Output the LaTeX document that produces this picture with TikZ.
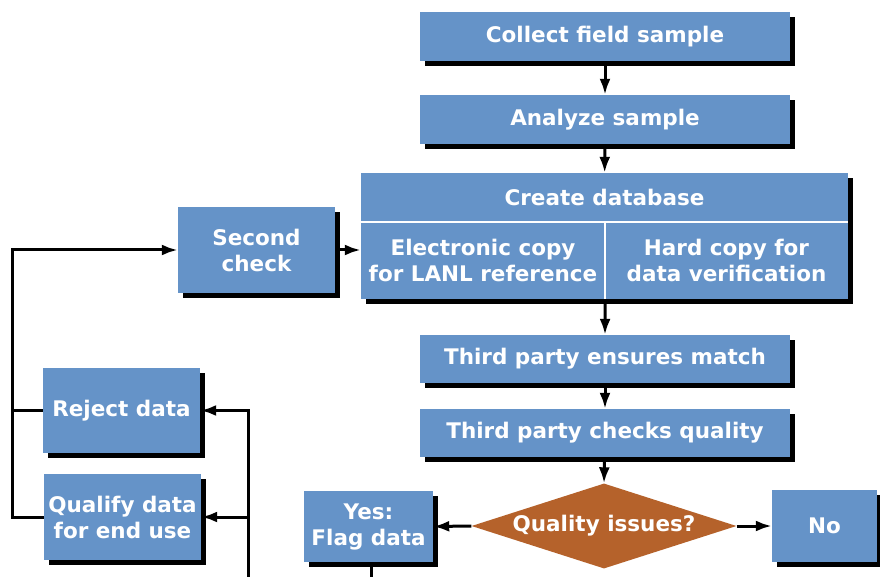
\documentclass[tikz,border=0pt]{standalone}
\usepackage{fontspec}
\setmainfont{DejaVu Sans}
\usetikzlibrary{shapes.geometric,shadows,arrows.meta}

\definecolor{boxblue}{HTML}{6593C8}
\definecolor{rust}{HTML}{B5622B}

\tikzset{
  box/.style={fill=boxblue, text=white, align=center, inner sep=0pt,
    font=\fontsize{21.5}{26}\selectfont\bfseries,
    drop shadow={shadow xshift=5pt, shadow yshift=-5pt, fill=black, opacity=1}},
  cell/.style={fill=boxblue, text=white, align=center, inner sep=0pt,
    font=\fontsize{21.5}{26}\selectfont\bfseries},
  flow/.style={line width=3pt, -{Latex[length=16pt,width=11pt]}},
  plain/.style={line width=3pt}
}

\begin{document}
\begin{tikzpicture}[x=1pt,y=-1pt]
\useasboundingbox (0,0) rectangle (880,577);

% main column
\node[box, minimum width=370pt, minimum height=49pt] (collect) at (605,36.5) {Collect field sample};
\node[box, minimum width=370pt, minimum height=49pt] (analyze) at (605,119.5) {Analyze sample};

% database block
\fill[black] (366,178) rectangle (853,304);
\node[cell, minimum width=487pt, minimum height=49pt] (dbhead) at (604.5,197.5) {Create database};
\node[cell, minimum width=244pt, minimum height=77pt] (elec) at (483,260.5) {Electronic copy\\for LANL reference};
\node[cell, minimum width=243pt, minimum height=77pt] (hard) at (726.5,260.5) {Hard copy for\\data verification};
\draw[white, line width=2pt] (elec.north west) -- (hard.north east);
\draw[white, line width=2pt] (elec.north east) -- (elec.south east);

\node[box, minimum width=370pt, minimum height=48pt] (match) at (605,359) {Third party ensures match};
\node[box, minimum width=370pt, minimum height=48pt] (check) at (605,433) {Third party checks quality};

% decision
\node[diamond, fill=rust, text=white, inner sep=0pt, aspect=3.1,
  minimum width=265pt, minimum height=85pt,
  font=\fontsize{21.5}{26}\selectfont\bfseries] (issues) at (604,526) {Quality issues?};
\node[box, minimum width=129pt, minimum height=71pt] (yes) at (368.5,526.5) {Yes:\\Flag data};
\node[box, minimum width=105pt, minimum height=72pt] (no) at (824.5,526) {No};

% left side
\node[box, minimum width=157pt, minimum height=86pt] (second) at (256.5,250) {Second\\check};
\node[box, minimum width=157pt, minimum height=85pt] (reject) at (121.5,410.5) {Reject data};
\node[box, minimum width=157pt, minimum height=86pt] (qualify) at (122.5,517) {Qualify data\\for end use};

\coordinate (loopL) at (12,0);
\coordinate (busR) at (248,577);

% connectors
\draw[flow] (collect) -- (analyze);
\draw[flow] (analyze) -- (dbhead);
\draw[flow] (elec.south east) -- (match.north);
\draw[flow] (match) -- (check);
\draw[flow] (check) -- (issues.north);
\draw[flow] (issues.west) -- (yes.east);
\draw[flow] (issues.east) -- (no.west);
\draw[flow] (second.east) -- (second.east -| elec.west);
\draw[flow] (qualify.west) -- (qualify.west -| loopL) |- (second.west);
\draw[plain] (reject.west) -- (reject.west -| loopL);
\draw[flow] (busR) |- (reject.east);
\draw[flow] (qualify.east -| busR) -- (qualify.east);
\draw[plain] (yes.south) ++(2.5,0) -- ++(0,15);
\end{tikzpicture}
\end{document}
